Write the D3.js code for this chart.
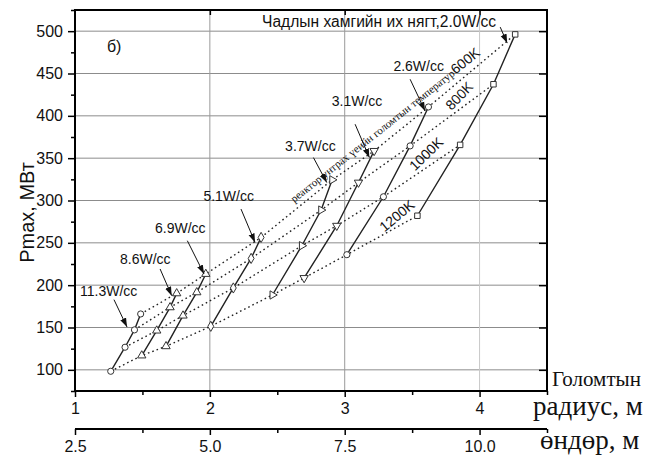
<!DOCTYPE html>
<html><head><meta charset="utf-8">
<script src="https://cdn.jsdelivr.net/npm/d3@7"></script>
<style>body{margin:0;background:#fff}</style>
</head><body>
<svg id="chart" width="651" height="457"></svg>
<script>
// ---- data ----
const densityLabels = ["11.3W/cc","8.6W/cc","6.9W/cc","5.1W/cc","3.7W/cc","3.1W/cc","2.6W/cc","2.0W/cc"];
const temperatureLabels = ["1200K","1000K","800K","600K"];
const radius1200 = [1.265,1.495,1.675,2.007,2.464,2.699,3.016,3.539];
const power1200  = [98.3,116.9,127.8,151.4,188.4,208.5,236.0,282.0];
const radius1000 = [1.371,1.606,1.801,2.174,2.682,2.941,3.287,3.856];
const power1000  = [126.7,146.3,164.0,196.7,246.6,270.2,304.4,365.7];
const radius800  = [1.441,1.705,1.903,2.306,2.825,3.102,3.485,4.103];
const power800   = [147.2,173.8,191.5,231.6,288.7,321.2,364.5,437.3];
const radius600  = [1.487,1.754,1.970,2.380,2.907,3.218,3.621,4.264];
const power600   = [166.0,190.3,213.2,256.4,324.4,358.6,410.5,496.2];
const radiusTicks = [1,2,3,4];
const radiusMinor = [1.5,2.5,3.5,4.5];
const heightTicks = [2.5,5.0,7.5,10.0];
const heightMinor = [3.75,6.25,8.75,11.25];
const powerTicks = [100,150,200,250,300,350,400,450,500];
const powerMinor = [75,125,175,225,275,325,375,425,475,525];

const radiusSets = [radius1200,radius1000,radius800,radius600];
const powerSets  = [power1200,power1000,power800,power600];

const SANS = "'Liberation Sans', Arial, sans-serif";
const SERIF = "'Liberation Serif', 'Times New Roman', serif";

const svg = d3.select("#chart");
const x = d3.scaleLinear([1,4.5],[75,547]);
const xh = d3.scaleLinear([2.5,11.25],[75,547]);
const y = d3.scaleLinear([75,525],[391,10]);

// gridlines
svg.append("g").selectAll("line").data(powerTicks).join("line")
  .attr("x1",x(1)).attr("x2",x(4.5)).attr("y1",d=>y(d)).attr("y2",d=>y(d))
  .attr("stroke","#8c8c8c").attr("stroke-width",1);
svg.append("g").selectAll("line").data([2,3,4]).join("line")
  .attr("x1",d=>x(d)).attr("x2",d=>x(d)).attr("y1",y(75)).attr("y2",y(525))
  .attr("stroke",d=>d===4?"#c8c8c8":"#9a9a9a").attr("stroke-width",1);

const line = d3.line().x(d=>x(d[0])).y(d=>y(d[1]));

// temperature (dotted) lines
temperatureLabels.forEach((t,k)=>{
  const pts = radiusSets[k].map((r,i)=>[r,powerSets[k][i]]);
  svg.append("path").attr("d",line(pts)).attr("fill","none")
    .attr("stroke","#222").attr("stroke-width",1.4).attr("stroke-dasharray","1.6,3");
});

// density (solid) lines
densityLabels.forEach((lab,i)=>{
  const pts = radiusSets.map((rs,k)=>[rs[i],powerSets[k][i]]);
  svg.append("path").attr("d",line(pts)).attr("fill","none")
    .attr("stroke","#222").attr("stroke-width",1.4);
});

// markers
const symbolTypes = [
  {t:d3.symbolCircle,r:0},{t:d3.symbolTriangle,r:0},{t:d3.symbolTriangle,r:0},{t:d3.symbolDiamond,r:0},
  {t:d3.symbolTriangle,r:90},{t:d3.symbolTriangle,r:180},{t:d3.symbolCircle,r:0},{t:d3.symbolSquare,r:0}];
densityLabels.forEach((lab,i)=>{
  radiusSets.forEach((rs,k)=>{
    const s = symbolTypes[i];
    svg.append("path").attr("d",d3.symbol(s.t, 30)())
      .attr("transform",`translate(${x(rs[i])},${y(powerSets[k][i])}) rotate(${s.r})`)
      .attr("fill","#fff").attr("stroke","#333").attr("stroke-width",1);
  });
});

// arrow marker
svg.append("defs").append("marker").attr("id","ah").attr("viewBox","0 0 10 10")
  .attr("refX",10).attr("refY",5).attr("markerWidth",9).attr("markerHeight",9)
  .attr("markerUnits","userSpaceOnUse").attr("orient","auto")
  .append("path").attr("d","M0,1.5 L10,5 L0,8.5 z").attr("fill","#111");

// density annotations: [label, textX, textY, arrowFromX, arrowFromY, arrowToX, arrowToY, fontSize] in data units
const densityNotes = [
  ["11.3W/cc",1.037,187.6,1.289,182.9,1.386,150.5,14],
  ["8.6W/cc",1.334,225.4,1.631,219.1,1.717,187.6,14],
  ["6.9W/cc",1.593,261.1,1.833,252.5,1.957,213.2,14],
  ["5.1W/cc",1.952,299.6,2.231,289.9,2.335,250.5,14],
  ["3.7W/cc",2.558,358.6,2.768,350.7,2.867,321.2,14],
  ["3.1W/cc",2.904,411.7,3.077,390.1,3.183,350.7,14],
  ["2.6W/cc",3.361,452.9,3.485,443.2,3.596,405.8,14],
  ["Чадлын хамгийн их нягт,2.0W/cc",2.387,504.8,4.153,504.8,4.205,485.9,15.6]
];
densityNotes.forEach(n=>{
  svg.append("text").attr("x",x(n[1])).attr("y",y(n[2])).text(n[0])
    .attr("font-family",SANS).attr("font-size",n[7]).attr("fill","#111");
  svg.append("line").attr("x1",x(n[3])).attr("y1",y(n[4])).attr("x2",x(n[5])).attr("y2",y(n[6]))
    .attr("stroke","#111").attr("stroke-width",1).attr("marker-end","url(#ah)");
});

// temperature labels (center in data units, rotation)
const tempNotes = [["1200K",3.387,282.0,-40],["1000K",3.604,355.1,-44],["800K",3.849,423.5,-46]];
tempNotes.forEach(n=>{
  svg.append("text").attr("transform",`translate(${x(n[1])},${y(n[2])}) rotate(${n[3]})`)
    .attr("text-anchor","middle").attr("dy","0.35em").text(n[0])
    .attr("font-family",SANS).attr("font-size",14).attr("fill","#111");
});
const longT = svg.append("text")
  .attr("transform",`translate(${x(2.625)},${y(297)}) rotate(-38.5)`)
  .attr("fill","#111");
longT.append("tspan").text("реактор унтрах үеийн голомтын температур")
  .attr("font-family",SERIF).attr("font-size",11);
longT.append("tspan").text("600K").attr("font-family",SANS).attr("font-size",14);

// "б)"
svg.append("text").attr("x",x(1.237)).attr("y",y(475.4)).text("б)")
  .attr("font-family",SANS).attr("font-size",16).attr("fill","#111");

// ---- axes ----
const axStyle = g=>{g.selectAll(".domain").remove();
  g.selectAll("line").attr("stroke","#000").attr("stroke-width",1.5);
  g.selectAll("text").attr("font-family",SANS).attr("font-size",16).attr("fill","#111");};

svg.append("g").attr("transform",`translate(${x(1)},0)`)
  .call(d3.axisLeft(y).tickValues(powerTicks).tickSize(7).tickPadding(5)).call(axStyle);
svg.append("g").attr("transform",`translate(${x(1)},0)`)
  .call(d3.axisLeft(y).tickValues(powerMinor).tickSize(4).tickFormat("")).call(axStyle);
svg.append("g").attr("transform",`translate(${x(4.5)},0)`)
  .call(d3.axisLeft(y).tickValues(powerTicks).tickSize(8).tickFormat("")).call(axStyle);
svg.append("g").attr("transform",`translate(0,${y(525)})`)
  .call(d3.axisBottom(x).tickValues([2,3,4]).tickSize(5).tickFormat("")).call(axStyle);

svg.append("g").attr("transform",`translate(0,${y(75)})`)
  .call(d3.axisBottom(x).tickValues(radiusTicks).tickSize(6).tickPadding(6).tickFormat(d3.format("d"))).call(axStyle);
svg.append("g").attr("transform",`translate(0,${y(75)})`)
  .call(d3.axisBottom(x).tickValues(radiusMinor).tickSize(4).tickFormat("")).call(axStyle);

const h0 = 429;
svg.append("g").attr("transform",`translate(0,${h0})`)
  .call(d3.axisBottom(xh).tickValues(heightTicks).tickSize(6).tickPadding(6).tickFormat(d3.format(".1f"))).call(axStyle);
svg.append("g").attr("transform",`translate(0,${h0})`)
  .call(d3.axisBottom(xh).tickValues(heightMinor).tickSize(4).tickFormat("")).call(axStyle);
svg.append("line").attr("x1",xh(2.5)).attr("x2",xh(11.25)).attr("y1",h0).attr("y2",h0)
  .attr("stroke","#000").attr("stroke-width",2);

// frame
svg.append("rect").attr("x",x(1)).attr("y",y(525)).attr("width",x(4.5)-x(1)).attr("height",y(75)-y(525))
  .attr("fill","none").attr("stroke","#000").attr("stroke-width",2);

// axis titles
svg.append("text").attr("transform",`translate(34,${(y(75)+y(525))/2+12}) rotate(-90)`)
  .attr("text-anchor","middle").text("Pmax, МВт")
  .attr("font-family",SANS).attr("font-size",20).attr("fill","#111");
svg.append("text").attr("x",552).attr("y",386).text("Голомтын")
  .attr("font-family",SERIF).attr("font-size",21).attr("fill","#111");
svg.append("text").attr("x",533).attr("y",415).text("радиус, м")
  .attr("font-family",SERIF).attr("font-size",27).attr("fill","#111");
svg.append("text").attr("x",540).attr("y",449).text("өндөр, м")
  .attr("font-family",SERIF).attr("font-size",27).attr("fill","#111");
</script>
</body></html>
